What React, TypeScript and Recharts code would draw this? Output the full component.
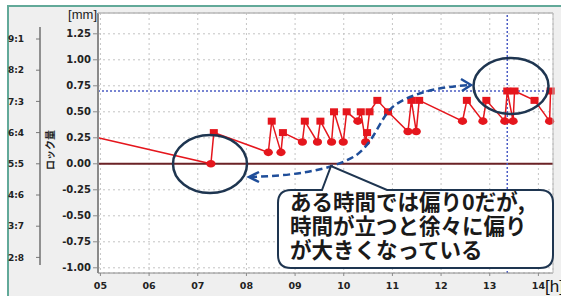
import React from "react";
import {
  LineChart,
  Line,
  XAxis,
  YAxis,
  CartesianGrid,
  ReferenceLine,
} from "recharts";

// time of day [h]
const hours = [
  4.95, 7.27, 7.33, 8.45, 8.52, 8.71, 8.75, 9.15, 9.2, 9.46, 9.52, 9.75, 9.8,
  9.99, 10.06, 10.29, 10.35, 10.45, 10.48, 10.53, 10.69, 10.91, 11.32, 11.39,
  11.49, 11.55, 12.44, 12.53, 12.86, 12.93, 13.31, 13.36, 13.48, 13.51, 13.92,
  14.23, 14.25,
];

// lock amount [mm]
const lockAmount = [
  0.25, 0.0, 0.3, 0.11, 0.41, 0.11, 0.3, 0.21, 0.41, 0.21, 0.41, 0.21, 0.5,
  0.21, 0.5, 0.41, 0.5, 0.21, 0.3, 0.5, 0.61, 0.5, 0.31, 0.61, 0.31, 0.61,
  0.41, 0.61, 0.41, 0.61, 0.41, 0.7, 0.41, 0.7, 0.61, 0.41, 0.7,
];

// marker of each sample
const markers = [
  "none", "circle", "square", "circle", "square", "circle", "square", "circle",
  "square", "circle", "square", "circle", "square", "circle", "square",
  "circle", "square", "circle", "square", "square", "square", "square",
  "circle", "square", "circle", "square", "circle", "square", "circle",
  "square", "circle", "square", "circle", "square", "square", "circle",
  "square",
];

const hourTicks = [5, 6, 7, 8, 9, 10, 11, 12, 13, 14];
const mmTicks = [-1, -0.75, -0.5, -0.25, 0, 0.25, 0.5, 0.75, 1, 1.25];
const ratioLabels = ["2:8", "3:7", "4:6", "5:5", "6:4", "7:3", "8:2", "9:1"];
const ratioStep = 0.3;

const limitValue = 0.7;
const markTime = 13.36;

const calloutLines = [
  "ある時間では偏り0だが,",
  "時間が立つと徐々に偏り",
  "が大きくなっている",
];

const data = hours.map((t, i) => ({
  t,
  v: lockAmount[i],
  m: markers[i],
}));

const ratioTicks = ratioLabels.map((_, i) => (i - 3) * ratioStep);

const RED = "#e5161d";
const NAVY = "#1e3550";
const DASH_BLUE = "#1f4e9a";

function Marker(props: any) {
  const { cx, cy, payload, index } = props;
  if (payload.m === "square") {
    return (
      <rect key={index} x={cx - 4} y={cy - 3.5} width={8} height={7} fill={RED} />
    );
  }
  if (payload.m === "circle") {
    return <ellipse key={index} cx={cx} cy={cy} rx={4.6} ry={3.8} fill={RED} />;
  }
  return <g key={index} />;
}

export default function App() {
  const axisFont = { fontFamily: "DejaVu Sans", fontWeight: 700, fill: "#222" };
  return (
    <div
      style={{
        position: "absolute",
        left: 0,
        top: 0,
        width: 561,
        height: 296,
        background: "#fff",
        overflow: "hidden",
      }}
    >
      <div
        style={{
          position: "absolute",
          left: 7,
          top: 5,
          right: 0,
          bottom: 0,
          background: "#efefef",
          borderLeft: "2px solid #62a999",
          borderTop: "2px solid #62a999",
        }}
      />
      <LineChart
        width={561}
        height={296}
        data={data}
        margin={{ top: 13, right: 8, bottom: 0, left: 0 }}
        style={{ position: "absolute", left: 0, top: 0 }}
      >
        <CartesianGrid
          yAxisId="mm"
          fill="#fff"
          stroke="#c4c4c4"
          strokeDasharray="2 3"
        />
        <XAxis
          dataKey="t"
          type="number"
          domain={[4.95, 14.3]}
          ticks={hourTicks}
          tickFormatter={(h) => String(h).padStart(2, "0")}
          height={23}
          tickSize={3}
          tickMargin={6}
          stroke="#8a8a8a"
          tick={{ ...axisFont, fontSize: 9.5 }}
        />
        <YAxis
          yAxisId="mm"
          domain={[-1.05, 1.45]}
          ticks={mmTicks}
          tickFormatter={(v) => Number(v).toFixed(2)}
          width={58}
          tickSize={5}
          tickMargin={2}
          stroke="#8a8a8a"
          axisLine={{ stroke: "#8a8a8a", strokeWidth: 2 }}
          tick={{ ...axisFont, fontSize: 10 }}
        />
        <YAxis
          yAxisId="ratio"
          domain={[-1.05, 1.45]}
          ticks={ratioTicks}
          tickFormatter={(v) => ratioLabels[Math.round(v / ratioStep) + 3]}
          width={40}
          tickSize={4}
          tickMargin={12}
          axisLine={false}
          tickLine={{ stroke: "#777" }}
          tick={{ ...axisFont, fontSize: 9 }}
        />
        <ReferenceLine yAxisId="mm" y={0} stroke="#6b2226" strokeWidth={2} />
        <ReferenceLine
          yAxisId="mm"
          y={limitValue}
          stroke="#4b5cc4"
          strokeWidth={1.5}
          strokeDasharray="2 2"
        />
        <ReferenceLine
          yAxisId="mm"
          x={markTime}
          stroke="#4b5cc4"
          strokeWidth={1.5}
          strokeDasharray="2 2"
        />
        {/* invisible series so the ratio axis gets a scale */}
        <Line
          yAxisId="ratio"
          type="linear"
          dataKey="v"
          stroke="none"
          dot={false}
          activeDot={false}
          isAnimationActive={false}
        />
        <Line
          yAxisId="mm"
          type="linear"
          dataKey="v"
          stroke={RED}
          strokeWidth={1.5}
          dot={Marker}
          activeDot={false}
          isAnimationActive={false}
        />
      </LineChart>
      <svg
        width={561}
        height={296}
        style={{ position: "absolute", left: 0, top: 0, pointerEvents: "none" }}
      >
        {/* plot frame */}
        <line x1={98} y1={13} x2={553} y2={13} stroke="#b8b8b8" strokeWidth={1.5} />
        <line x1={553} y1={13} x2={553} y2={273} stroke="#b8b8b8" strokeWidth={1} />
        {/* ratio axis line */}
        <line x1={40} y1={27} x2={40} y2={265} stroke="#707070" strokeWidth={1.5} />
        <text
          x={97}
          y={19}
          textAnchor="end"
          fontFamily="Liberation Sans"
          fontSize={13}
          fill="#222"
        >
          [mm]
        </text>
        <text
          transform="translate(54,150) rotate(-90)"
          textAnchor="middle"
          fontFamily="Noto Sans CJK JP"
          fontWeight={700}
          fontSize={10}
          fill="#222"
        >
          ロック量
        </text>
        <text x={545} y={292} fontFamily="Liberation Sans" fontSize={17} fill="#111">
          [h]
        </text>
        {/* highlight ellipses */}
        <ellipse cx={210} cy={164} rx={37} ry={29} fill="none" stroke={NAVY} strokeWidth={2.5} />
        <ellipse cx={511} cy={86} rx={37.5} ry={28} fill="none" stroke={NAVY} strokeWidth={2.5} />
        {/* dashed double arrow */}
        <path
          d="M250,177 C290,176 330,171 355,156 C375,143 380,116 395,105 C415,92 440,87 469,85"
          fill="none"
          stroke={DASH_BLUE}
          strokeWidth={2.5}
          strokeDasharray="7 4"
        />
        <path d="M259,172 L249,177 L259,182" fill="none" stroke={DASH_BLUE} strokeWidth={2.5} />
        <path d="M461,79 L471,85 L462,91" fill="none" stroke={DASH_BLUE} strokeWidth={2.5} />
        {/* callout */}
        <path
          d="M291,190 L322,190 L331,166 L387,190 L540,190 Q553,190 553,203 L553,255 Q553,268 540,268 L291,268 Q278,268 278,255 L278,203 Q278,190 291,190 Z"
          fill="#fff"
          stroke={NAVY}
          strokeWidth={2}
        />
        {calloutLines.map((s, i) => (
          <text
            key={i}
            x={290}
            y={210 + i * 24}
            fontFamily="Noto Sans CJK JP"
            fontWeight={700}
            fontSize={21.5}
            fill="#1a1a1a"
          >
            {s}
          </text>
        ))}
      </svg>
    </div>
  );
}
